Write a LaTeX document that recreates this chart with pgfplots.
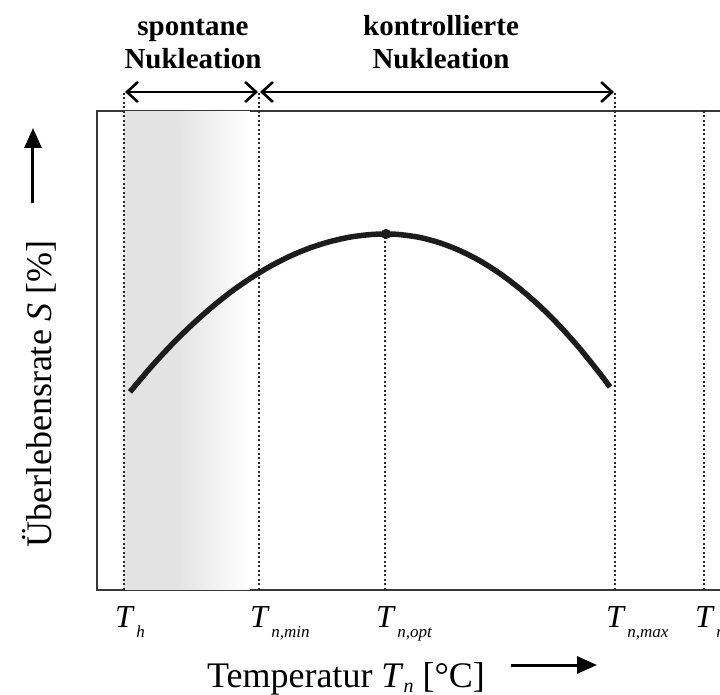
\documentclass[border=0pt]{standalone}
\usepackage{fontspec}
\setmainfont{Liberation Serif}
\usepackage{pgfplots}
\pgfplotsset{compat=1.18}
\usetikzlibrary{arrows.meta}
\definecolor{boxc}{HTML}{383838}
\definecolor{dotc}{HTML}{2A2A2A}
\definecolor{curvec}{HTML}{1C1C1C}
\definecolor{shadec}{HTML}{E3E3E3}
\newcommand{\Tsub}[1]{\textit{T}\kern1.5bp\raisebox{-10bp}{\fontsize{17bp}{17bp}\selectfont\textit{#1}}}
\begin{document}
\begin{tikzpicture}
\begin{axis}[
  at={(97bp,105bp)}, anchor=south west,
  scale only axis, width=648bp, height=479bp,
  xmin=97, xmax=745, ymin=105, ymax=584,
  xtick=\empty, ytick=\empty,
  axis line style={draw=boxc, line width=1.5bp},
  clip=false,
  colormap={nuc}{color=(shadec) color=(white)},
  point meta min=0, point meta max=1,
]
% shaded region (spontaneous nucleation)
\addplot[patch, patch type=rectangle, shader=interp, point meta=explicit] coordinates {
(124,105) [0] (178,105) [0] (178,584) [0] (124,584) [0]
(178,105) [0] (250,105) [1] (250,584) [1] (178,584) [0]
};
% dotted guide lines
\addplot[dotc, line width=1.6bp, dash pattern=on 2.2bp off 2.3bp] coordinates {(124,105) (124,603)};
\addplot[dotc, line width=1.6bp, dash pattern=on 2.2bp off 2.3bp] coordinates {(259,105) (259,603)};
\addplot[dotc, line width=1.6bp, dash pattern=on 2.2bp off 2.3bp] coordinates {(385,105) (385,461)};
\addplot[dotc, line width=1.6bp, dash pattern=on 2.2bp off 2.3bp] coordinates {(615,105) (615,603)};
\addplot[dotc, line width=1.6bp, dash pattern=on 2.2bp off 2.3bp] coordinates {(704,105) (704,584)};
% survival curve
\addplot[curvec, line width=5.5bp, smooth, line cap=butt] coordinates {
(130,303.1) (150,326.8) (170,348.6) (190,368.4) (210,386.3) (230,402.4)
(250,416.4) (270,428.6) (290,438.8) (310,447.1) (330,453.4) (350,457.9)
(370,460.4) (386,461) (400,460.4) (420,457.5) (440,452.1) (460,444.3)
(480,434.1) (500,421.4) (520,406.2) (540,388.7) (560,368.7) (580,346.2)
(600,321.3) (610,308)};
\addplot[only marks, mark=*, mark size=4.8bp, curvec] coordinates {(386,461)};
% range arrows
\draw[{Straight Barb[length=11bp,width=20bp,line width=2.6bp]}-{Straight Barb[length=11bp,width=20bp,line width=2.6bp]}, line width=1.6bp, black]
  (axis cs:125,603) -- (axis cs:258,603);
\draw[{Straight Barb[length=11bp,width=20bp,line width=2.6bp]}-{Straight Barb[length=11bp,width=20bp,line width=2.6bp]}, line width=1.6bp, black]
  (axis cs:260,603) -- (axis cs:614,603);
% titles
\node[anchor=base, font=\bfseries\fontsize{29bp}{33bp}\selectfont] at (axis cs:193,659) {spontane};
\node[anchor=base, font=\bfseries\fontsize{29bp}{33bp}\selectfont] at (axis cs:193,626) {Nukleation};
\node[anchor=base, font=\bfseries\fontsize{29bp}{33bp}\selectfont] at (axis cs:441,659) {kontrollierte};
\node[anchor=base, font=\bfseries\fontsize{29bp}{33bp}\selectfont] at (axis cs:441,626) {Nukleation};
% tick labels
\node[anchor=base west, inner sep=0pt, xshift=-9bp, font=\fontsize{32bp}{32bp}\selectfont] at (axis cs:124,68) {\Tsub{h}};
\node[anchor=base west, inner sep=0pt, xshift=-9bp, font=\fontsize{32bp}{32bp}\selectfont] at (axis cs:259,68) {\Tsub{n,min}};
\node[anchor=base west, inner sep=0pt, xshift=-9bp, font=\fontsize{32bp}{32bp}\selectfont] at (axis cs:385,68) {\Tsub{n,opt}};
\node[anchor=base west, inner sep=0pt, xshift=-9bp, font=\fontsize{32bp}{32bp}\selectfont] at (axis cs:615,68) {\Tsub{n,max}};
\node[anchor=base west, inner sep=0pt, xshift=-9bp, font=\fontsize{32bp}{32bp}\selectfont] at (axis cs:704,68) {\Tsub{m}};
% axis labels
\node[anchor=base, inner sep=0pt, font=\fontsize{36bp}{36bp}\selectfont] at (axis cs:346,8)
  {Temperatur \textit{T}\raisebox{-5bp}{\fontsize{20bp}{20bp}\selectfont\textit{n}} [°C]};
\draw[-{Triangle[length=20bp,width=17bp]}, line width=3bp, black] (axis cs:511,30) -- (axis cs:597,30);
\node[anchor=base, rotate=90, inner sep=0pt, font=\fontsize{36bp}{36bp}\selectfont] at (axis cs:52,301)
  {Überlebensrate \textit{S} [\%]};
\draw[-{Triangle[length=20bp,width=17bp]}, line width=3bp, black] (axis cs:33,492) -- (axis cs:33,567);
\end{axis}
\pgfresetboundingbox
\path[use as bounding box] (0,0) rectangle (720bp,695bp);
\end{tikzpicture}
\end{document}
